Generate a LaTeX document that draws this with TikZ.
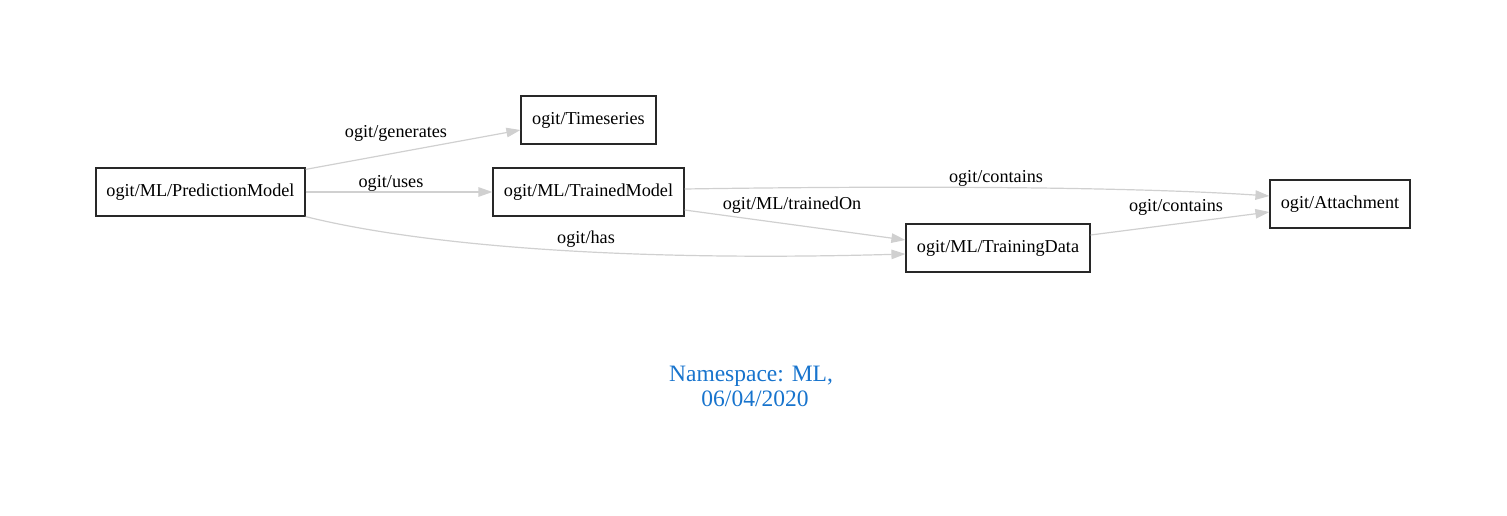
\documentclass[tikz,border=0pt]{standalone}
\usepackage{fontspec}
\setmainfont{Liberation Serif}
\usetikzlibrary{arrows.meta}
\definecolor{edgegray}{RGB}{208,208,208}
\definecolor{boxline}{RGB}{40,40,40}
\definecolor{titleblue}{RGB}{24,116,205}
\begin{document}
\begin{tikzpicture}[x=1pt,y=-1pt,
  box/.style={draw=boxline, line width=1.2pt, minimum height=48pt, inner sep=0pt, font=\fontsize{18.2}{20}\selectfont},
  rel/.style={draw=edgegray, line width=1.2pt, -{Triangle[length=14pt,width=9.5pt]}},
  lbl/.style={font=\fontsize{18.2}{20}\selectfont, inner sep=0pt},
  ttl/.style={font=\fontsize{23.5}{26}\selectfont, text=titleblue, inner sep=0pt, anchor=base}]
\useasboundingbox (0,0) rectangle (1507,516);
\node[box, minimum width=209pt] (pm) at (200.5,192) {\raisebox{-1.5pt}{ogit/ML/PredictionModel}};
\node[box, minimum width=135pt] (ts) at (588.5,120) {\raisebox{-1.5pt}{ogit/Timeseries}};
\node[box, minimum width=191pt] (tm) at (588.5,192) {\raisebox{-1.5pt}{ogit/ML/TrainedModel}};
\node[box, minimum width=184pt] (td) at (998,248) {\raisebox{-1.5pt}{ogit/ML/TrainingData}};
\node[box, minimum width=140pt] (att) at (1340,204) {\raisebox{-1.5pt}{ogit/Attachment}};

\draw[rel] ([yshift=-2pt]pm.north east) -- ([yshift=-10pt]ts.west);
\draw[rel] (pm.east) -- (tm.west);
\draw[rel] (pm.south east) .. controls (420,245) and (620,262) .. ([yshift=-6pt]td.west);
\draw[rel] ([yshift=3pt]tm.east) .. controls (950,185) and (1150,188) .. ([yshift=8pt]att.west);
\draw[rel] ([yshift=-18pt]tm.east) -- ([yshift=8pt]td.west);
\draw[rel] ([yshift=13pt]td.east) -- ([yshift=-8pt]att.west);

\node[lbl] (lgen) at (396,133.5) {ogit/generates};
\node[lbl] (luse) at (391,183.5) {ogit/uses};
\node[lbl] (lhas) at (586,239.5) {ogit/has};
\node[lbl] (lcon1) at (996,178.5) {ogit/contains};
\node[lbl] (ltrn) at (792,205.5) {ogit/ML/trainedOn};
\node[lbl] (lcon2) at (1176,207.5) {ogit/contains};

\node[ttl] (t1) at (751,381.5) {Namespace: ML,};
\node[ttl] (t2) at (755,406.5) {06/04/2020};
\end{tikzpicture}
\end{document}
